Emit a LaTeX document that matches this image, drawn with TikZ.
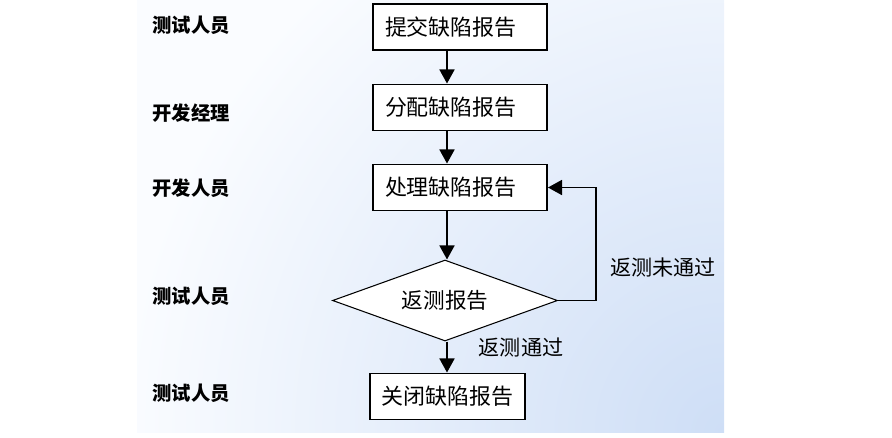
\documentclass[tikz,border=0pt]{standalone}
\usepackage{fontspec}
\newfontfamily\cjk{Noto Sans CJK SC}
\usetikzlibrary{shapes.geometric,arrows.meta}
\definecolor{bgblue}{RGB}{206,222,246}
\definecolor{bgwhite}{RGB}{250,252,255}
\begin{document}
\begin{tikzpicture}[x=0.02cm,y=-0.02cm,
    box/.style={draw,line width=1.1pt,fill=white,minimum height=0.92cm,inner xsep=0.24cm,
      font=\cjk\fontsize{12.5}{15}\selectfont},
    wide/.style={box,text width=3cm,align=left},
    role/.style={font=\cjk\bfseries\fontsize{11}{13}\selectfont},
    note/.style={font=\cjk\fontsize{12}{14}\selectfont},
    flow/.style={line width=1.1pt,-{Triangle[length=8pt,width=8.5pt]}}]
  \useasboundingbox (0,0) rectangle (892,437);
  % background
  \begin{scope}
    \clip (137,0) rectangle (724,432);
    \fill[bgwhite] (137,0) rectangle (724,432);
    \shade[inner color=bgblue,outer color=bgwhite] (724,432) circle (12cm);
  \end{scope}
  % roles
  \node[role] (r1) at (191,25) {测试人员};
  \node[role] (r2) at (191,113) {开发经理};
  \node[role] (r3) at (191,188) {开发人员};
  \node[role] (r4) at (191,296) {测试人员};
  \node[role] (r5) at (191,393) {测试人员};
  % steps
  \coordinate (spine) at (447,0);
  \node[wide] (submit) at (460,27) {提交缺陷报告};
  \node[wide] (assign) at (460,107.5) {分配缺陷报告};
  \node[wide] (fix) at (460,187.5) {处理缺陷报告};
  \node[diamond,draw,fill=white,line width=0.6pt,aspect=2.8,minimum width=4.5cm,minimum height=1.62cm,
    inner sep=0pt,font=\cjk\fontsize{12.3}{14}\selectfont] (retest) at (445,300.5) {返测报告};
  \node[box,minimum width=2.98cm] (close) at (447.5,396.5) {关闭缺陷报告};
  % connectors
  \draw[flow] (submit.south -| spine) -- (assign.north -| spine);
  \draw[flow] (assign.south -| spine) -- (fix.north -| spine);
  \draw[flow] (fix.south -| spine) -- (retest.north -| spine);
  \draw[flow] (retest.south -| spine) -- (close.north -| spine);
  \draw[flow] (retest.east) -- ++(38,0) |- (fix.east);
  \node[note] (fail) at (663,267) {返测未通过};
  \node[note] (pass) at (521,347) {返测通过};
\end{tikzpicture}
\end{document}
